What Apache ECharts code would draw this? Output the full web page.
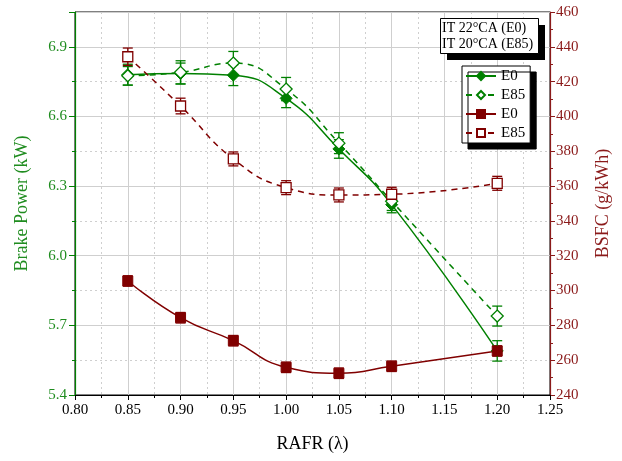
<!DOCTYPE html>
<html><head><meta charset="utf-8">
<script src="https://cdn.jsdelivr.net/npm/echarts@6/dist/echarts.min.js"></script>
<style>html,body{margin:0;padding:0;background:#fff}#c{width:622px;height:461px}</style>
</head><body><div id="c"></div>
<script>
const rafr = [0.85, 0.90, 0.95, 1.00, 1.05, 1.10, 1.20];
const bpE0 = [6.78, 6.785, 6.778, 6.678, 6.46, 6.22, 5.59];
const bpE0Err = [0.045, 0.045, 0.045, 0.04, 0.04, 0.035, 0.044];
const bpE85 = [6.775, 6.79, 6.83, 6.718, 6.485, 6.235, 5.74];
const bpE85Err = [0.04, 0.05, 0.05, 0.05, 0.045, 0.04, 0.043];
const bsfcE0 = [305.5, 284.4, 271.2, 255.9, 252.5, 256.5, 265.3];
const bsfcE0Err = [3, 3, 3, 3, 3, 3, 3];
const bsfcE85 = [434.3, 406, 375.6, 359.1, 354.9, 355.3, 361.6];
const bsfcE85Err = [5, 4.5, 4, 4, 4, 4, 4];
const noteLines = ['IT 22°CA (E0)', 'IT 20°CA (E85)'];

const G = '#008000', R = '#800000';
const GT = '#1f8c1f', RT = '#8b1a1a';
const FONT = 'Liberation Serif';

function pairs(ys){ return rafr.map((x,i)=>[x, ys[i]]); }
function errData(ys, es){ return rafr.map((x,i)=>[x, ys[i]-es[i], ys[i]+es[i]]); }
function errSeries(ys, es, color, yIdx){
  return {
    type:'custom', yAxisIndex:yIdx, z:3, silent:true,
    data: errData(ys, es),
    renderItem: function(params, api){
      const lo = api.coord([api.value(0), api.value(1)]);
      const hi = api.coord([api.value(0), api.value(2)]);
      const w = 5;
      const st = {stroke: color, lineWidth: 1.3};
      return {type:'group', children:[
        {type:'line', shape:{x1:lo[0], y1:lo[1], x2:hi[0], y2:hi[1]}, style:st},
        {type:'line', shape:{x1:lo[0]-w, y1:lo[1], x2:lo[0]+w, y2:lo[1]}, style:st},
        {type:'line', shape:{x1:hi[0]-w, y1:hi[1], x2:hi[0]+w, y2:hi[1]}, style:st}
      ]};
    }
  };
}

const chart = echarts.init(document.getElementById('c'), null, {renderer:'canvas'});
chart.setOption({
  backgroundColor:'#fff',
  animation:false,
  textStyle:{fontFamily:FONT},
  grid:{left:75, right:72, top:12, bottom:66, show:true, borderColor:'#000', borderWidth:1, backgroundColor:'transparent'},
  graphic:[
    {type:'rect', left:447, top:25, z:100, shape:{width:98, height:35}, style:{fill:'#000'}},
    {type:'rect', left:440, top:18, z:101, shape:{width:98, height:35}, style:{fill:'#fff', stroke:'#000', lineWidth:1}},
    {type:'text', left:442, top:20, z:102, style:{text: noteLines.join('\n'), font:'14px "Liberation Serif"', fill:'#000', lineHeight:16}}
  ],
  legend:{
    orient:'vertical', left:462, top:66, itemWidth:30, itemHeight:10, itemGap:3,
    padding:[2,5,2,3], backgroundColor:'#fff', borderColor:'#000', borderWidth:1,
    shadowColor:'#000', shadowOffsetX:6, shadowOffsetY:6, shadowBlur:0,
    textStyle:{fontFamily:FONT, fontSize:15, color:'#000', lineHeight:16},
    formatter: n => n.trim(),
    data:['E0','E85','E0 ','E85 ']
  },
  xAxis:{
    type:'value', min:0.8, max:1.25, interval:0.05,
    name:'RAFR (λ)', nameLocation:'middle', nameGap:40,
    nameTextStyle:{fontFamily:FONT, fontSize:18, color:'#000'},
    axisLine:{lineStyle:{color:'#000', width:1}},
    axisTick:{length:5, lineStyle:{color:'#000'}},
    minorTick:{show:true, splitNumber:2, length:3, lineStyle:{color:'#000'}},
    axisLabel:{fontFamily:FONT, fontSize:15, color:'#000', margin:8, formatter: v => v.toFixed(2)},
    splitLine:{show:true, lineStyle:{color:'#cfcfcf', width:1}},
    minorSplitLine:{show:true, lineStyle:{color:'#cfcfcf', type:[2,3], width:1}}
  },
  yAxis:[
    {
      type:'value', position:'left', min:5.4, max:7.05, interval:0.15,
      name:'Brake Power (kW)', nameLocation:'middle', nameGap:44,
      nameTextStyle:{fontFamily:FONT, fontSize:18, color:GT},
      axisLine:{show:true, lineStyle:{color:G, width:1.2}},
      axisTick:{show:true, length:3, lineStyle:{color:G}},
      axisLabel:{fontFamily:FONT, fontSize:15, color:GT, margin:8,
        formatter: v => { const k=(v-5.4)/0.3; return Math.abs(k-Math.round(k))<1e-6 && v<7.0 ? v.toFixed(1) : ''; }},
      splitLine:{show:true, lineStyle:{color:'#cfcfcf', type:[2,3], width:1}}
    },
    {
      type:'value', position:'left', min:5.4, max:7.05, interval:0.3,
      axisLine:{show:false},
      axisTick:{show:true, length:6, lineStyle:{color:G}},
      axisLabel:{show:false},
      splitLine:{show:true, lineStyle:{color:'#cfcfcf', width:1}}
    },
    {
      type:'value', position:'right', min:240, max:460, interval:20,
      name:'BSFC (g/kWh)', nameLocation:'middle', nameGap:44,
      nameTextStyle:{fontFamily:FONT, fontSize:18, color:RT},
      axisLine:{show:true, lineStyle:{color:RT, width:1.2}},
      axisTick:{show:true, length:5, lineStyle:{color:RT}},
      minorTick:{show:true, splitNumber:2, length:3, lineStyle:{color:RT}},
      axisLabel:{fontFamily:FONT, fontSize:15, color:RT, margin:6},
      splitLine:{show:false}
    }
  ],
  series:[
    {name:'E0', type:'line', yAxisIndex:0, smooth:0.5, data:pairs(bpE0), z:5,
      symbol:'diamond', symbolSize:12,
      lineStyle:{color:G, width:1.5}, itemStyle:{color:G, borderColor:G, borderWidth:1}},
    {name:'E85', type:'line', yAxisIndex:0, smooth:0.5, data:pairs(bpE85), z:5,
      symbol:'diamond', symbolSize:12,
      lineStyle:{color:G, width:1.5, type:[6,5]}, itemStyle:{color:'#fff', borderColor:G, borderWidth:1.3}},
    {name:'E0 ', type:'line', yAxisIndex:2, smooth:0.5, data:pairs(bsfcE0), z:5,
      symbol:'rect', symbolSize:10,
      lineStyle:{color:R, width:1.5}, itemStyle:{color:R, borderColor:R, borderWidth:1}},
    {name:'E85 ', type:'line', yAxisIndex:2, smooth:0.5, data:pairs(bsfcE85), z:5,
      symbol:'rect', symbolSize:10,
      lineStyle:{color:R, width:1.5, type:[6,5]}, itemStyle:{color:'#fff', borderColor:R, borderWidth:1.3}},
    errSeries(bpE0, bpE0Err, G, 0),
    errSeries(bpE85, bpE85Err, G, 0),
    errSeries(bsfcE0, bsfcE0Err, R, 2),
    errSeries(bsfcE85, bsfcE85Err, R, 2)
  ]
});
</script></body></html>
